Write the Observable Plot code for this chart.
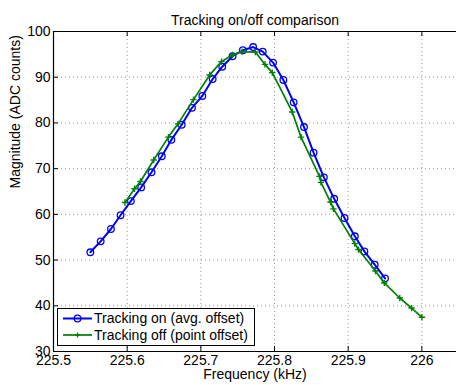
<!DOCTYPE html>
<html><head><meta charset="utf-8">
<script src="https://cdn.jsdelivr.net/npm/d3@7"></script>
<script src="https://cdn.jsdelivr.net/npm/@observablehq/plot@0.6"></script>
<style>body{margin:0;background:#fff;}</style>
</head><body><div id="chart"></div>
<script>
// ---- data ----
const onFreq = [225.550, 225.564, 225.578, 225.591, 225.605, 225.619, 225.633, 225.647, 225.660, 225.674,
                225.688, 225.702, 225.716, 225.729, 225.743, 225.757, 225.771, 225.784, 225.798, 225.812,
                225.826, 225.840, 225.853, 225.867, 225.881, 225.895, 225.909, 225.922, 225.936, 225.950];
const onMag  = [51.7, 54.1, 56.8, 59.8, 62.9, 65.9, 69.2, 72.7, 76.3, 79.6,
                83.3, 85.9, 89.6, 92.3, 94.6, 95.9, 96.6, 95.6, 93.2, 89.4,
                84.5, 79.1, 73.5, 68.1, 63.4, 59.2, 55.2, 51.9, 49.0, 46.0];
const offFreq = [225.597, 225.610, 225.618, 225.636, 225.656, 225.669, 225.690, 225.712, 225.728, 225.743,
                 225.756, 225.774, 225.787, 225.797, 225.824, 225.836, 225.861, 225.863, 225.876, 225.880,
                 225.909, 225.914, 225.937, 225.949, 225.970, 225.986, 226.000];
const offMag  = [62.6, 65.6, 67.2, 71.9, 76.9, 79.8, 85.1, 90.5, 93.4, 94.9,
                 95.6, 95.5, 92.8, 91.0, 82.4, 76.9, 68.3, 67.0, 62.7, 61.2,
                 53.6, 52.3, 47.6, 45.0, 41.7, 39.5, 37.5];
const xTicks = [225.5, 225.6, 225.7, 225.8, 225.9, 226];
const xTickLabels = ["225.5", "225.6", "225.7", "225.8", "225.9", "226"];
const yTicks = [30, 40, 50, 60, 70, 80, 90, 100];
const yTickLabels = ["30", "40", "50", "60", "70", "80", "90", "100"];
const seriesNames = ["Tracking on (avg. offset)", "Tracking off (point offset)"];
const seriesColors = ["#0000ff", "#008000"];
const titleText = "Tracking on/off comparison";
const xLabel = "Frequency (kHz)";
const yLabel = "Magnitude (ADC counts)";

// ---- build ----
const on = onFreq.map((f, i) => ({f, m: onMag[i]}));
const off = offFreq.map((f, i) => ({f, m: offMag[i]}));
const font = "'Liberation Sans', Arial, Helvetica, sans-serif";
const W = 456, H = 385, mL = 53, mT = 31, mB = 34, mR = 0;
const fw = W - mL - mR, fh = H - mT - mB;

const svg = Plot.plot({
  width: W, height: H,
  marginLeft: mL, marginTop: mT, marginBottom: mB, marginRight: mR,
  style: {fontFamily: font, fontSize: "14px", background: "white", color: "black", overflow: "visible"},
  x: {domain: [225.5, 226.047], ticks: xTicks, tickFormat: d => xTickLabels[xTicks.indexOf(d)], tickSize: 0, tickPadding: 4, label: null},
  y: {domain: [30, 100], ticks: yTicks, tickFormat: d => yTickLabels[yTicks.indexOf(d)], tickSize: 0, tickPadding: 3, label: null},
  marks: [
    // grid
    Plot.ruleX(xTicks.slice(1), {stroke: "#999", strokeWidth: 1, strokeDasharray: "1,3"}),
    Plot.ruleY(yTicks.slice(1, -1), {stroke: "#999", strokeWidth: 1, strokeDasharray: "1,3"}),
    // inward ticks
    Plot.ruleX(xTicks, {stroke: "black", insetTop: fh - 5}),
    Plot.ruleX(xTicks, {stroke: "black", insetBottom: fh - 5}),
    Plot.ruleY(yTicks, {stroke: "black", insetRight: fw - 5}),
    // axes box
    Plot.ruleX([225.5], {stroke: "black", strokeWidth: 1.2}),
    Plot.ruleY([30, 100], {stroke: "black", strokeWidth: 1.2}),
    // series
    Plot.line(on, {x: "f", y: "m", stroke: seriesColors[0], strokeWidth: 2}),
    Plot.dot(on, {x: "f", y: "m", r: 3.3, stroke: seriesColors[0], strokeWidth: 1.3, fill: "none"}),
    Plot.line(off, {x: "f", y: "m", stroke: seriesColors[1], strokeWidth: 1.7}),
    Plot.dot(off, {x: "f", y: "m", symbol: "plus", r: 2.2, stroke: seriesColors[1], strokeWidth: 1.4}),
    // texts
    Plot.text([titleText], {text: d => d, frameAnchor: "top", dy: -16, fontSize: 14}),
    Plot.text([xLabel], {text: d => d, frameAnchor: "bottom", dy: 27, fontSize: 14}),
    Plot.text([yLabel], {text: d => d, frameAnchor: "left", dx: -38, dy: -3, rotate: -90, fontSize: 14})
  ]
});

// legend
const s = d3.select(svg);
const lg = s.append("g").attr("font-family", font).attr("font-size", 14).attr("text-anchor", "start");
lg.append("rect").attr("x", 57.5).attr("y", 308.5).attr("width", 197).attr("height", 37)
  .attr("fill", "white").attr("stroke", "black").attr("stroke-width", 1);
seriesNames.forEach((name, i) => {
  const y = 318.5 + i * 16.5;
  lg.append("line").attr("x1", 63).attr("x2", 92).attr("y1", y).attr("y2", y)
    .attr("stroke", seriesColors[i]).attr("stroke-width", i === 0 ? 2 : 1.7);
  if (i === 0) {
    lg.append("circle").attr("cx", 77.5).attr("cy", y).attr("r", 3.3)
      .attr("fill", "none").attr("stroke", seriesColors[i]).attr("stroke-width", 1.3);
  } else {
    lg.append("path").attr("d", `M75,${y}H80M77.5,${y - 2.5}V${y + 2.5}`)
      .attr("stroke", seriesColors[i]).attr("stroke-width", 1.4);
  }
  lg.append("text").attr("x", 94).attr("y", y).attr("dy", "0.35em").attr("text-anchor", "start")
    .attr("fill", "black").text(name);
});

document.getElementById("chart").appendChild(svg);
</script>
</body></html>
